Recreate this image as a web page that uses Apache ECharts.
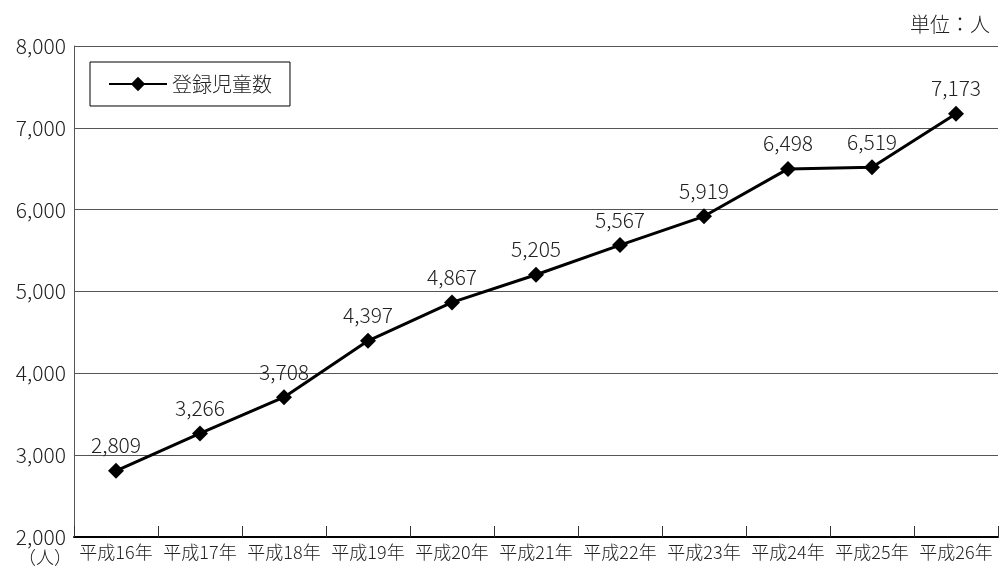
<!DOCTYPE html>
<html><head><meta charset="utf-8">
<script src="https://cdn.jsdelivr.net/npm/echarts@6/dist/echarts.min.js"></script>
<style>html,body{margin:0;padding:0;background:#fff}#c{width:1000px;height:570px}</style>
</head><body><div id="c"></div>
<script>
const categories = ['平成16年','平成17年','平成18年','平成19年','平成20年','平成21年','平成22年','平成23年','平成24年','平成25年','平成26年'];
const seriesName = '登録児童数';
const values = [2809, 3266, 3708, 4397, 4867, 5205, 5567, 5919, 6498, 6519, 7173];
const unitText = '単位：人';
const yUnit = '（人）';
const FONT = '"Noto Sans CJK JP", "Noto Sans", sans-serif';
const chart = echarts.init(document.getElementById('c'));
chart.setOption({
  animation: false,
  textStyle: {fontFamily: FONT, fontWeight: 300},
  grid: {left: 74, right: 2, top: 46, bottom: 33, containLabel: false},
  legend: {
    show: true, left: 90, top: 62, orient: 'horizontal',
    data: [seriesName],
    borderColor: '#000', borderWidth: 1, borderRadius: 0,
    padding: [12, 18, 12, 18],
    itemWidth: 58, itemHeight: 18, itemGap: 6,
    textStyle: {fontSize: 20, color: '#222', fontFamily: FONT, fontWeight: 300}
  },
  graphic: [
    {type: 'text', right: 10, top: 14, style: {text: unitText, font: '300 20px ' + FONT, fill: '#222'}},
    {type: 'text', left: 18, top: 548, style: {text: yUnit, font: '300 18px ' + FONT, fill: '#222'}}
  ],
  xAxis: {
    type: 'category', data: categories, boundaryGap: true,
    axisLine: {lineStyle: {color: '#000', width: 2}},
    axisTick: {show: true, inside: true, length: 11, interval: 0, lineStyle: {color: '#333', width: 1}},
    axisLabel: {fontSize: 18, color: '#222', margin: 6, interval: 0, fontFamily: FONT, fontWeight: 300}
  },
  yAxis: {
    type: 'value', min: 2000, max: 8000, interval: 1000,
    axisLine: {show: true, lineStyle: {color: '#555', width: 1}},
    axisTick: {show: false},
    splitLine: {show: true, lineStyle: {color: '#555', width: 1}},
    axisLabel: {fontSize: 21, color: '#222', margin: 8, fontFamily: FONT, fontWeight: 300,
      formatter: v => v.toLocaleString('en-US')}
  },
  series: [{
    name: seriesName, type: 'line', data: values,
    symbol: 'diamond', symbolSize: 16,
    lineStyle: {color: '#000', width: 3},
    itemStyle: {color: '#000'},
    label: {show: true, position: 'top', distance: 7, fontSize: 21, color: '#222', fontFamily: FONT, fontWeight: 300,
      formatter: p => p.value.toLocaleString('en-US')}
  }]
});
</script></body></html>
